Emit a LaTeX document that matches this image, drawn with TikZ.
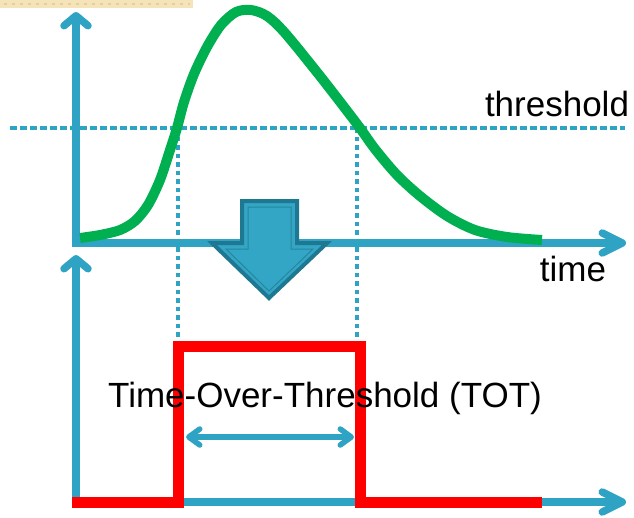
\documentclass[tikz,border=0pt]{standalone}
\usepackage{fontspec}
\setmainfont{Liberation Sans}
\usetikzlibrary{arrows.meta}

\definecolor{axisblue}{HTML}{2FA3C3}
\definecolor{arrowfill}{HTML}{34A6C5}
\definecolor{arrowdark}{HTML}{1F7892}
\definecolor{pulsegreen}{HTML}{00B050}
\definecolor{stripbeige}{HTML}{F5E4BA}
\definecolor{stripdot}{HTML}{E6CF9C}

\begin{document}
\begin{tikzpicture}[x=1pt, y=-1pt,
	axis/.style={axisblue, line width=7.5pt},
	vhead/.style={-{Straight Barb[length=10pt,width=24pt,round]}},
	hhead/.style={-{Straight Barb[length=20pt,width=20pt,round]}},
	dotline/.style={axisblue, line width=4.5pt},
	lbl/.style={font=\fontsize{35}{40}\selectfont, inner sep=0pt}]
	\useasboundingbox (0,0) rectangle (634,517);

	% corner strip
	\fill [stripbeige] (0,0) rectangle (193,8);
	\draw [stripdot, line width=2.5pt, dash pattern=on 3pt off 5pt] (4,4) -- (190,4);

	% threshold level
	\coordinate (thl) at (10,128);
	\coordinate (thr) at (625,128);
	\draw [dotline, dash pattern=on 7pt off 3pt] (thl) -- (thr);
	\node [lbl] (thrlabel) at (557,104) {threshold};

	% crossing points, projected down
	\coordinate (c1) at (178,128);
	\coordinate (c2) at (357,128);
	\coordinate (d1) at (178,338);
	\coordinate (d2) at (357,338);
	\draw [dotline, dash pattern=on 4.5pt off 4pt] (c1) -- (d1);
	\draw [dotline, dash pattern=on 4.5pt off 4pt] (c2) -- (d2);

	% upper axes
	\coordinate (o1) at (76,247);
	\coordinate (y1) at (76,12);
	\coordinate (s1) at (72,243);
	\coordinate (x1) at (626,243);
	\draw [axis, vhead] (o1) -- (y1);
	\draw [axis, hhead] (s1) -- (x1);
	\node [lbl] (timelabel) at (573,269) {time};

	% lower axes
	\coordinate (o2) at (76,506);
	\coordinate (y2) at (76,255);
	\coordinate (s2) at (72,502);
	\coordinate (x2) at (626,502);
	\draw [axis, vhead] (o2) -- (y2);
	\draw [axis, hhead] (s2) -- (x2);

	% the analog pulse
	\draw [pulsegreen, line width=10pt] plot [smooth] coordinates {(80,238) (100,235) (120,230) (135,221) (148,205) (160,180) (170,150) (177,128) (184,102) (194,74) (207,47) (221,25) (236,12) (251,10) (267,16) (285,33) (320,76) (357,124) (375,149) (397,175) (420,196) (447,216) (475,230) (507,237) (542,240)};

	% block arrow
	\draw [arrowdark, fill=arrowfill, line width=4pt, line join=miter] (242,201) -- (297,201) -- (297,243) -- (327,243) -- (269,298) -- (212,243) -- (242,243) -- cycle;
	\draw [arrowdark!70!arrowfill, line width=1pt] (248,207) -- (291,207) -- (291,249) -- (313,249) -- (269,291) -- (226,249) -- (248,249) -- cycle;

	% digital output
	\draw [red, line width=11pt, line join=miter] (72,502) -- (178,502) -- (178,346) -- (360,346) -- (360,502) -- (542,502);
	\node [lbl, anchor=base] (totlabel) at (325,407) {Time-Over-Threshold (TOT)};

	% width of the pulse
	\coordinate (w1) at (186,437);
	\coordinate (w2) at (354,437);
	\draw [axisblue, line width=5.5pt, {Straight Barb[length=11pt,width=16pt,round]}-{Straight Barb[length=11pt,width=16pt,round]}] (w1) -- (w2);
\end{tikzpicture}
\end{document}
